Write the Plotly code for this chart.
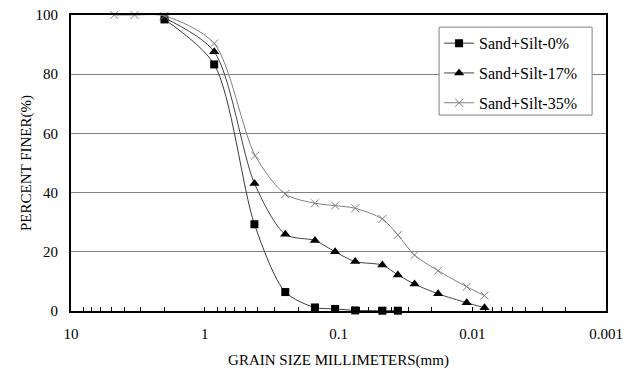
import plotly.graph_objects as go

# Grain sizes (mm)
size_0 = [2.0, 0.85, 0.425, 0.25, 0.15, 0.106, 0.075, 0.047, 0.036]
finer_0 = [98.5, 83.3, 29.3, 6.4, 1.2, 0.7, 0.2, 0.1, 0.1]

size_17 = [2.0, 0.85, 0.425, 0.25, 0.15, 0.106, 0.075, 0.047, 0.036, 0.027, 0.018, 0.011, 0.0081]
finer_17 = [99.0, 87.6, 43.1, 25.9, 23.8, 20.0, 16.7, 15.5, 12.2, 9.1, 5.8, 2.8, 1.1]

size_35 = [4.75, 3.35, 2.0, 0.85, 0.42, 0.25, 0.15, 0.106, 0.075, 0.047, 0.036, 0.027, 0.018, 0.011, 0.0081]
finer_35 = [100, 100, 99.7, 90.4, 52.5, 39.5, 36.4, 35.6, 34.7, 31.1, 25.7, 18.9, 13.6, 8.2, 5.2]

names = ["Sand+Silt-0%", "Sand+Silt-17%", "Sand+Silt-35%"]
x_major = [10, 1, 0.1, 0.01, 0.001]
x_major_labels = ["10", "1", "0.1", "0.01", "0.001"]
y_ticks = [0, 20, 40, 60, 80, 100]

FONT = "Liberation Serif"

fig = go.Figure()
fig.add_trace(go.Scatter(
    x=size_0, y=finer_0, name=names[0], legendgroup="a", mode="lines+markers",
    line=dict(color="#3a3a3a", width=1, shape="spline", smoothing=0.8),
    marker=dict(symbol="square", size=8, color="black"), cliponaxis=False))
fig.add_trace(go.Scatter(
    x=size_17, y=finer_17, name=names[1], legendgroup="b", mode="lines+markers",
    line=dict(color="#444444", width=1, shape="spline", smoothing=0.8),
    marker=dict(symbol="triangle-up", size=9, color="black"), cliponaxis=False))
fig.add_trace(go.Scatter(
    x=size_35, y=finer_35, name=names[2], legendgroup="c", mode="lines+markers",
    line=dict(color="#808080", width=1, shape="spline", smoothing=0.8),
    marker=dict(symbol="x-thin", size=8, color="#808080",
                line=dict(color="#808080", width=1)), cliponaxis=False))

# tick positions: decades plus 2..8 minors
tickvals = []
ticktext = []
for dec in [1, 0.1, 0.01, 0.001]:
    for m in range(1, 9):
        v = m * dec
        tickvals.append(v)
        ticktext.append("")
tickvals.append(10)
ticktext.append("")
for v, t in zip(x_major, x_major_labels):
    for i, tv in enumerate(tickvals):
        if abs(tv - v) < 1e-12:
            ticktext[i] = t

# legend frame (paper coords)
fig.add_shape(type="rect", xref="paper", yref="paper",
              x0=0.688, x1=0.974, y0=0.662, y1=0.959,
              fillcolor="white", line=dict(color="#808080", width=1),
              layer="above")

fig.update_layout(
    width=635, height=369,
    margin=dict(l=71, r=29, t=15, b=58),
    paper_bgcolor="white", plot_bgcolor="white",
    font=dict(family=FONT, size=15, color="black"),
    showlegend=True,
    legend=dict(x=0.688, y=0.962, xanchor="left", yanchor="top",
                bgcolor="rgba(0,0,0,0)", borderwidth=0,
                font=dict(family=FONT, size=16, color="black"), tracegroupgap=6,
                itemwidth=30),
    xaxis=dict(type="log", range=[1, -3], tickvals=tickvals, ticktext=ticktext,
               ticks="inside", ticklen=4, tickcolor="black", tickwidth=1,
               ticklabelstandoff=8, automargin=False,
               showgrid=False, zeroline=False,
               showline=True, linecolor="black", linewidth=2, mirror=True,
               title=dict(text="GRAIN SIZE MILLIMETERS(mm)", standoff=25,
                          font=dict(family=FONT, size=15)),
               tickfont=dict(family=FONT, size=15)),
    yaxis=dict(range=[0, 100], tickvals=y_ticks, ticks="", showgrid=True,
               ticklabelstandoff=8, automargin=False,
               gridcolor="#808080", gridwidth=1, zeroline=False,
               showline=True, linecolor="black", linewidth=2, mirror=True,
               title=dict(text="PERCENT FINER(%)", standoff=0,
                          font=dict(family=FONT, size=15)),
               tickfont=dict(family=FONT, size=15)),
)

fig.write_html("out.html", config={"displayModeBar": False},
               post_script="document.body.style.margin='0';")
